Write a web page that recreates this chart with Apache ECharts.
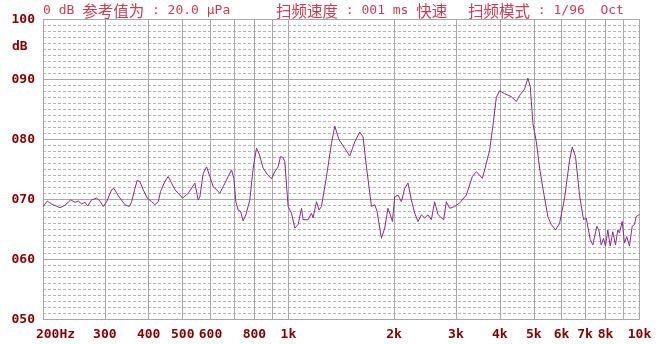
<!DOCTYPE html>
<html><head><meta charset="utf-8">
<script src="https://cdn.jsdelivr.net/npm/echarts@6/dist/echarts.min.js"></script>
<style>html,body{margin:0;padding:0;background:#fff}#c{width:671px;height:344px}</style>
</head><body><div id="c"></div>
<script>
const freqs = [
 200,205.7,211.7,223.5,231,239.8,246.7,252.1,257.8,263.4,
 268.1,275.2,284.4,290.6,296.9,303.6,313.7,318.5,327.6,342.3,
 352.1,357.7,365.5,371.1,377.7,385.9,396.2,407.8,416.7,425.8,
 432.5,444.9,454.6,475,499.6,518.3,541.5,553.4,559.6,571.8,
 584.7,597.5,610.5,624.3,637.9,651.8,673.6,688.8,699.2,708.4,
 719.2,730.6,743.1,756.4,776.5,793.5,811.3,825.3,847.2,869.7,
 895.1,914.7,934.7,949.5,963.9,976.6,998,1020.5,1042.8,1065.6,
 1089.6,1101.1,1137.7,1163.4,1175.6,1202.1,1222.8,1242.2,1283.6,1326.4,
 1355.4,1394.1,1447.1,1495.3,1545.2,1596.7,1631.6,1668.4,1723.9,1761.6,
 1788.4,1840.7,1880.9,1921,1951.5,1977.9,2008,2051.8,2098.2,2143.8,
 2190.8,2240,2289,2339,2391.8,2444,2497.4,2553.6,2609.4,2666.6,
 2726.6,2768,2817.6,2879,2975,3074,3212,3341,3430,3505,
 3567.6,3621.8,3742.6,3824.4,3910.6,3996,4129,4314,4458,4555.6,
 4707,4810,4887,4971,5083,5194,5307,5484,5607,5768,
 5921,6118,6321,6433,6574,6748,6927,7051,7239,7363,
 7558,7658,7779,7897,8001,8123,8252,8393,8543,8673,
 8770,8927,9062,9200,9365,9532,9677,9785,9888,10000
];
const levels = [
 68.8,69.7,69.2,68.6,69.0,69.9,69.5,69.7,69.2,69.5,
 68.9,69.9,70.2,69.7,68.8,69.6,71.6,71.8,70.6,69.1,
 68.8,69.6,71.8,73.2,72.9,71.6,70.2,69.6,69.1,69.6,
 71.3,73.0,73.8,71.6,70.2,71.0,72.7,69.9,70.4,74.3,
 75.4,73.8,72.1,71.6,71.0,72.1,73.8,74.9,73.5,69.6,
 68.2,68.0,66.4,67.4,69.9,75.2,78.5,77.6,75.2,74.2,
 73.4,74.6,75.4,77.1,77.0,76.3,68.8,67.7,65.2,65.8,
 68.5,66.6,66.6,67.7,66.9,69.6,68.2,68.8,73.8,79.3,
 82.2,79.9,78.5,77.2,79.6,81.2,80.4,75.4,68.8,69.1,
 68.0,63.5,65.2,68.5,67.4,66.3,70.4,70.7,69.6,71.8,
 72.7,69.9,67.7,66.3,67.4,66.9,67.4,66.6,69.6,67.5,
 66.9,66.6,69.6,68.5,68.8,69.4,70.7,73.8,74.6,74.0,
 73.5,74.9,78.2,82.3,87.0,88.1,87.6,87.1,86.3,87.3,
 88.4,90.2,88.7,82.6,79.6,75.2,71.8,67.1,65.8,64.9,
 66.0,70.2,76.5,78.7,77.1,70.7,66.6,66.9,63.3,62.4,
 65.5,64.9,62.4,63.5,62.2,64.9,62.2,64.6,62.4,64.9,
 64.4,66.3,62.7,63.8,62.2,65.5,65.8,67.1,67.4,67.5
];
const gridFreqs = [200,300,400,500,600,700,800,900,1000,2000,3000,4000,5000,6000,7000,8000,9000,10000];
const labelFreqs = [200,300,400,500,600,800,1000,2000,3000,4000,5000,6000,7000,8000,10000];
const yMin = 50, yMax = 100, yMajor = 10, yMinor = 1;
const headerParts = [
  '{a|0 dB }{c|参考值为}{a| : 20.0 μPa}',
  '{c|扫频速度}{a| : 001 ms }{c|快速}',
  '{c|扫频模式}{a| : 1/96  Oct}'
];
const headerLeft = [43, 276, 468];
const unitLabel = 'dB';

const MONO = '"DejaVu Sans Mono", monospace';
const CJK = '"Noto Sans CJK SC", sans-serif';
const HEAD_COLOR = '#c83c55';
const LABEL_COLOR = '#800000';

const chart = echarts.init(document.getElementById('c'), null, {renderer: 'canvas'});
const data = freqs.map((f, i) => [f, levels[i]]);

chart.setOption({
  animation: false,
  backgroundColor: '#ffffff',
  grid: {left: 43, right: 31.5, top: 19.3, bottom: 24.7, containLabel: false},
  xAxis: {
    type: 'log', logBase: 10, min: 200, max: 10000,
    axisLine: {show: false},
    axisTick: {show: false, customValues: gridFreqs},
    splitLine: {show: true, lineStyle: {color: '#a8a8a8', width: 1, type: 'solid'}},
    axisLabel: {
      customValues: labelFreqs,
      color: LABEL_COLOR, fontFamily: MONO, fontWeight: 'bold', fontSize: 13, margin: 9,
      formatter: v => {
        v = Math.round(v);
        if (v === 200) return '{first|200Hz}';
        return v >= 1000 ? (v / 1000) + 'k' : String(v);
      },
      rich: {first: {padding: [0, 0, 0, 25], color: LABEL_COLOR, fontFamily: MONO, fontWeight: 'bold', fontSize: 13}}
    }
  },
  yAxis: [
    {
      type: 'value', min: yMin, max: yMax, interval: yMinor,
      axisLine: {show: false}, axisTick: {show: false}, axisLabel: {show: false},
      splitLine: {show: true, lineStyle: {color: '#b4b4b4', width: 1, type: [3, 2]}}
    },
    {
      type: 'value', min: yMin, max: yMax, interval: yMajor, position: 'left',
      axisLine: {show: false}, axisTick: {show: false},
      axisLabel: {
        color: LABEL_COLOR, fontFamily: MONO, fontWeight: 'bold', fontSize: 13, margin: 8,
        padding: [4, 0, 0, 0],
        formatter: v => String(v).padStart(3, '0')
      },
      splitLine: {show: true, lineStyle: {color: '#a8a8a8', width: 1, type: 'solid'}}
    }
  ],
  graphic: headerParts.map((t, i) => ({
    type: 'text', left: headerLeft[i], top: 3,
    style: {
      text: t,
      rich: {
        a: {fontFamily: MONO, fontSize: 13, fill: HEAD_COLOR, color: HEAD_COLOR},
        c: {fontFamily: CJK, fontSize: 15.5, fill: HEAD_COLOR, color: HEAD_COLOR}
      }
    }
  })).concat([{
    type: 'text', left: 12, top: 40,
    style: {text: unitLabel, font: 'bold 13px ' + MONO, fill: LABEL_COLOR}
  }]),
  series: [{
    type: 'line', xAxisIndex: 0, yAxisIndex: 1,
    data: data, showSymbol: false, smooth: false,
    lineStyle: {color: '#8a2b8a', width: 1},
    z: 5
  }]
});
</script></body></html>
